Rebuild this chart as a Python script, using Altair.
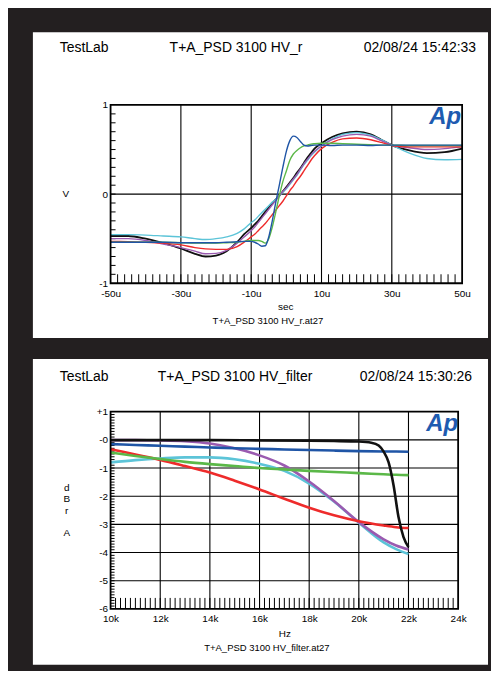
import altair as alt
import pandas as pd

FONT = "Liberation Sans"

# ---------------- top panel: step response (V vs microseconds) ----------------
t_us = [-50, -45, -40, -35, -30, -26, -23, -20, -17, -14, -12, -10, -9, -8, -7,
        -6, -5, -4, -3, -2, -1, 0, 1, 2, 3, 4, 5, 6, 7, 8, 10, 13, 16, 20, 24,
        27, 30, 35, 40, 45, 50]
step_black = [-0.47, -0.47, -0.50, -0.55, -0.61, -0.67, -0.70, -0.69, -0.64, -0.54,
              -0.45, -0.38, -0.34, -0.30, -0.25, -0.20, -0.15, -0.10, -0.06, -0.02,
              0.03, 0.08, 0.13, 0.18, 0.24, 0.29, 0.35, 0.41, 0.46, 0.51,
              0.57, 0.64, 0.68, 0.70, 0.67, 0.61, 0.55, 0.49, 0.46, 0.47, 0.51]
step_cyan = [-0.455, -0.455, -0.46, -0.47, -0.48, -0.50, -0.51, -0.50, -0.48, -0.44,
             -0.39, -0.32, -0.29, -0.25, -0.21, -0.17, -0.13, -0.09, -0.06, -0.02,
             0.02, 0.06, 0.11, 0.16, 0.21, 0.27, 0.33, 0.38, 0.43, 0.47,
             0.54, 0.62, 0.67, 0.69, 0.66, 0.61, 0.55, 0.46, 0.40, 0.385, 0.39]
step_purple = [-0.50, -0.50, -0.52, -0.56, -0.60, -0.64, -0.67, -0.665, -0.63, -0.55,
               -0.48, -0.41, -0.37, -0.32, -0.27, -0.22, -0.17, -0.12, -0.07, -0.02,
               0.03, 0.07, 0.12, 0.17, 0.22, 0.28, 0.34, 0.39, 0.44, 0.48,
               0.54, 0.61, 0.65, 0.67, 0.65, 0.60, 0.55, 0.52, 0.50, 0.51, 0.53]
step_red = [-0.53, -0.535, -0.54, -0.55, -0.57, -0.60, -0.615, -0.62, -0.62, -0.59,
            -0.54, -0.48, -0.45, -0.41, -0.37, -0.33, -0.28, -0.23, -0.18, -0.13,
            -0.08, -0.02, 0.04, 0.09, 0.15, 0.20, 0.26, 0.32, 0.38, 0.43,
            0.51, 0.58, 0.62, 0.63, 0.61, 0.58, 0.545, 0.53, 0.53, 0.53, 0.53]
step_green = [-0.54, -0.54, -0.54, -0.54, -0.545, -0.55, -0.55, -0.55, -0.545, -0.54,
              -0.53, -0.52, -0.52, -0.52, -0.53, -0.55, -0.50, -0.37, -0.20, -0.02,
              0.14, 0.26, 0.38, 0.45, 0.49, 0.52, 0.54, 0.55, 0.56, 0.565,
              0.57, 0.57, 0.565, 0.56, 0.555, 0.55, 0.55, 0.545, 0.545, 0.545, 0.545]
step_blue = [-0.54, -0.54, -0.54, -0.54, -0.545, -0.545, -0.545, -0.545, -0.54, -0.535,
             -0.53, -0.53, -0.54, -0.56, -0.585, -0.58, -0.48, -0.30, -0.09, 0.10,
             0.30, 0.48, 0.60, 0.65, 0.635, 0.59, 0.55, 0.54, 0.545, 0.55,
             0.55, 0.545, 0.55, 0.55, 0.545, 0.55, 0.55, 0.55, 0.55, 0.55, 0.55]

top_headers = ["TestLab", "T+A_PSD 3100 HV_r", "02/08/24 15:42:33"]
top_xlabel = "sec"
top_file = "T+A_PSD 3100 HV_r.at27"
top_ylabel = ["V"]
top_xticks = [-50, -30, -10, 10, 30, 50]
top_yticks = [-1, 0, 1]
top_xgrid = [-30, -10, 10, 30]
top_ygrid = [0]

# ---------------- bottom panel: filter response (dBr A vs kHz) ----------------
freq_k = [10, 11, 12, 13, 14, 15, 16, 17, 18, 19, 20, 21, 21.5, 22]
fr_blue = [-0.15, -0.18, -0.21, -0.24, -0.27, -0.30, -0.32, -0.34, -0.36, -0.38,
           -0.40, -0.41, -0.415, -0.42]
fr_green = [-0.45, -0.57, -0.68, -0.78, -0.86, -0.93, -1.00, -1.05, -1.10, -1.14,
            -1.18, -1.22, -1.24, -1.25]
fr_red = [-0.33, -0.52, -0.71, -0.93, -1.16, -1.45, -1.76, -2.09, -2.41, -2.68,
          -2.89, -3.04, -3.10, -3.13]
fr_cyan = [-0.80, -0.72, -0.66, -0.62, -0.62, -0.69, -0.85, -1.10, -1.55, -2.19,
           -2.94, -3.64, -3.88, -4.05]
fr_purple = [-0.01, -0.01, -0.02, -0.05, -0.13, -0.30, -0.55, -0.91, -1.48, -2.17,
             -2.92, -3.53, -3.75, -3.89]
black_freq_k = [10, 12, 14, 16, 18, 19, 20, 20.5, 20.8, 21, 21.2, 21.4, 21.6, 21.8, 22]
fr_black = [-0.01, -0.01, -0.01, -0.02, -0.03, -0.04, -0.06, -0.10, -0.20, -0.42,
            -0.80, -1.62, -2.75, -3.45, -3.80]

bot_headers = ["TestLab", "T+A_PSD 3100 HV_filter", "02/08/24 15:30:26"]
bot_xlabel = "Hz"
bot_file = "T+A_PSD 3100 HV_filter.at27"
bot_ylabel = ["d", "B", "r", "A"]
bot_xticks = [10, 12, 14, 16, 18, 20, 22, 24]
bot_yticks = [1, 0, -1, -2, -3, -4, -5, -6]
bot_xgrid = [12, 14, 16, 18, 20, 22]
bot_ygrid = [0, -1, -2, -3, -4, -5]

logo_text = "Ap"

# ---------------- styling ----------------
C_BLACK = "#111111"
C_BLUE = "#1f55a6"
C_GREEN = "#5bb848"
C_RED = "#ee2b2b"
C_CYAN = "#5cc4d8"
C_PURPLE = "#9a5bb0"
C_LOGO = "#1e5bb0"
BORDER = "#231f20"

one = pd.DataFrame({"k": [0]})


def txt(s, x, y, align="center", size=10, baseline="middle", **kw):
    return alt.Chart(one).mark_text(
        align=align, baseline=baseline, font=FONT, fontSize=size, color="black", **kw
    ).encode(x=alt.value(x), y=alt.value(y), text=alt.value(s))


def panel(W, H, xdom, ydom, xaxis, yaxis, series, xgrid, ygrid, minor_x, minor_y,
          mx_len, my_len, rect, headers, head_pos, xlabel, xlabel_pos,
          fname, fname_pos, ylab, ylab_pos, logo_pos):
    xs = alt.Scale(domain=xdom, nice=False, zero=False)
    ys = alt.Scale(domain=ydom, nice=False, zero=False)
    X = alt.X("t:Q", scale=xs, axis=xaxis)
    Y = alt.Y("v:Q", scale=ys, axis=yaxis)
    layers = []
    # white panel
    layers.append(alt.Chart(one).mark_rect(color="white").encode(
        x=alt.value(rect[0]), x2=alt.value(rect[1]),
        y=alt.value(rect[2]), y2=alt.value(rect[3])))
    # grid
    layers.append(alt.Chart(pd.DataFrame({"t": xgrid})).mark_rule(
        color="black", strokeWidth=1.1).encode(x=X, y=alt.value(0), y2=alt.value(H)))
    layers.append(alt.Chart(pd.DataFrame({"v": ygrid})).mark_rule(
        color="black", strokeWidth=1.1).encode(y=Y, x=alt.value(0), x2=alt.value(W)))
    # minor ticks
    layers.append(alt.Chart(pd.DataFrame({"t": minor_x})).mark_rule(
        color="black", strokeWidth=1).encode(x=X, y=alt.value(H), y2=alt.value(H - mx_len)))
    layers.append(alt.Chart(pd.DataFrame({"v": minor_y})).mark_rule(
        color="black", strokeWidth=1).encode(y=Y, x=alt.value(0), x2=alt.value(my_len)))
    # curves
    for xv, yv, col, w in series:
        df = pd.DataFrame({"t": xv, "v": yv})
        layers.append(alt.Chart(df).mark_line(
            color=col, strokeWidth=w, interpolate="monotone", clip=True).encode(x=X, y=Y))
    # frame
    layers.append(alt.Chart(one).mark_rect(fill="transparent", stroke="black", strokeWidth=1.8).encode(
        x=alt.value(0), x2=alt.value(W), y=alt.value(0), y2=alt.value(H)))
    # texts
    layers.append(txt(headers[0], head_pos[0], head_pos[3], align="left", size=14))
    layers.append(txt(headers[1], head_pos[1], head_pos[3], align="center", size=14))
    layers.append(txt(headers[2], head_pos[2], head_pos[3], align="right", size=14))
    layers.append(txt(xlabel, xlabel_pos[0], xlabel_pos[1], size=10))
    layers.append(txt(fname, fname_pos[0], fname_pos[1], size=9.5))
    for s, yy in zip(ylab, ylab_pos[1]):
        layers.append(txt(s, ylab_pos[0], yy, size=10))
    layers.append(alt.Chart(one).mark_text(
        align="left", baseline="alphabetic", font=FONT, fontSize=24, fontWeight="bold",
        fontStyle="italic", color=C_LOGO).encode(
        x=alt.value(logo_pos[0]), y=alt.value(logo_pos[1]), text=alt.value(logo_text)))
    return alt.layer(*layers).properties(width=W, height=H)


def mk_axis(values, expr, pad):
    return alt.Axis(values=values, labelExpr=expr, grid=False, ticks=False, domain=False,
                    labelFont=FONT, labelFontSize=10, labelColor="black", labelPadding=pad,
                    labelFlush=False, labelOverlap=False, title=None, zindex=2)


# top panel
TW, TH = 353, 179
top_series = [
    (t_us, step_black, C_BLACK, 1.8),
    (t_us, step_cyan, C_CYAN, 1.4),
    (t_us, step_purple, C_PURPLE, 1.4),
    (t_us, step_red, C_RED, 1.4),
    (t_us, step_green, C_GREEN, 1.4),
    (t_us, step_blue, C_BLUE, 1.4),
]
top = panel(
    TW, TH, [-50, 50], [-1, 1],
    mk_axis(top_xticks, "datum.value + 'u'", 5),
    mk_axis(top_yticks, "datum.value + ''", 3),
    top_series, top_xgrid, top_ygrid,
    [v for v in range(-48, 50, 2)], [v / 10 for v in range(-9, 10)],
    9, 5,
    (-78, 379, -73, 234),
    top_headers, (-51, 126, 367, -57),
    top_xlabel, (176, 203),
    top_file, (158, 217),
    top_ylabel, (-45, [89]),
    (320, 19),
)

# bottom panel
BW, BH = 349, 198
bot_series = [
    (freq_k, fr_cyan, C_CYAN, 2.6),
    (freq_k, fr_purple, C_PURPLE, 2.6),
    (freq_k, fr_red, C_RED, 2.6),
    (freq_k, fr_green, C_GREEN, 2.6),
    (freq_k, fr_blue, C_BLUE, 2.6),
    (black_freq_k, fr_black, C_BLACK, 2.6),
]
bottom = panel(
    BW, BH, [10, 24], [-6, 1],
    mk_axis(bot_xticks, "datum.value + 'k'", 5),
    mk_axis(bot_yticks, "datum.value > 0 ? '+' + datum.value : '-' + abs(datum.value)", 3),
    bot_series, bot_xgrid, bot_ygrid,
    [10 + i * 0.2 for i in range(1, 70)], [-6 + i * 0.1 for i in range(1, 70)],
    11, 4,
    (-78, 379, -53, 254),
    bot_headers, (-51, 125, 363, -35),
    bot_xlabel, (175, 223),
    bot_file, (157, 237),
    bot_ylabel, (-44, [77, 88, 100, 122]),
    (317, 19),
)

chart = alt.vconcat(top, bottom, spacing=19).properties(
    padding={"left": 24, "top": 22, "right": 2, "bottom": 4}
).configure(background=BORDER).configure_view(stroke="transparent")

chart.save("out.html", embed_options={"renderer": "svg", "actions": False})
